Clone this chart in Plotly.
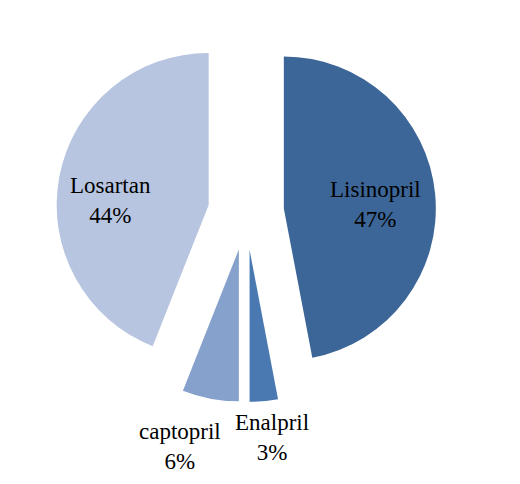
import plotly.graph_objects as go

drugs = ["Lisinopril", "Enalpril", "captopril", "Losartan"]
shares = [47, 3, 6, 44]

colors = ["#3d6698", "#4a79b2", "#86a1cc", "#b7c5e0"]
pulls = [0.25, 0.25, 0.25, 0.25]
# label anchor positions (paper coords), one per slice
label_x = [0.7058, 0.5077, 0.3308, 0.198]
label_y = [0.595, 0.1116, 0.0930, 0.6033]

fig = go.Figure(go.Pie(
    labels=drugs,
    values=shares,
    sort=False,
    direction="clockwise",
    rotation=0,
    pull=pulls,
    marker=dict(colors=colors, line=dict(width=0)),
    textinfo="none",
    hoverinfo="label+percent",
    showlegend=False,
    domain=dict(x=[0.09231, 0.82308], y=[0.18595, 0.97107]),
))

for name, val, lx, ly in zip(drugs, shares, label_x, label_y):
    fig.add_annotation(
        x=lx, y=ly, xref="paper", yref="paper",
        text=f"{name}<br>{val}%",
        showarrow=False,
        xanchor="center", yanchor="middle",
        font=dict(family="Liberation Serif, serif", size=23, color="black"),
    )

fig.update_layout(
    width=520, height=484,
    margin=dict(l=0, r=0, t=0, b=0),
    paper_bgcolor="white",
    plot_bgcolor="white",
    showlegend=False,
)

fig.write_html("out.html")
